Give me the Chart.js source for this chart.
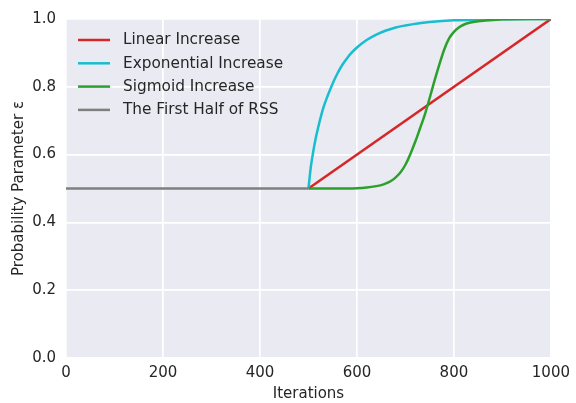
<!DOCTYPE html>
<html>
<head>
<meta charset="utf-8">
<script src="https://cdn.jsdelivr.net/npm/chart.js@4/dist/chart.umd.min.js"></script>
<style>
  html, body { margin: 0; padding: 0; background: #ffffff; }
  canvas { display: block; }
</style>
</head>
<body>
<canvas id="c" width="576" height="403"></canvas>
<script>
// ---- data ----
const xTickValues = [0, 200, 400, 600, 800, 1000];
const yTickValues = [0.0, 0.2, 0.4, 0.6, 0.8, 1.0];

const linearIters = [500, 1000];
const linearVals  = [0.5, 1.0];

const expIters = [500, 505, 510, 515, 520, 530, 540, 550, 560, 570, 580, 590, 600, 620, 640, 660, 680, 700, 725, 750, 800, 850, 900, 1000];
const expVals  = [0.5, 0.565, 0.61, 0.648, 0.68, 0.735, 0.775, 0.81, 0.84, 0.865, 0.885, 0.902, 0.916, 0.938, 0.954, 0.966, 0.975, 0.981, 0.987, 0.991, 0.996, 0.998, 0.999, 1.0];

const sigIters = [500, 550, 600, 620, 640, 650, 660, 670, 680, 690, 700, 710, 720, 730, 740, 750, 760, 770, 780, 790, 800, 810, 820, 830, 840, 860, 880, 900, 950, 1000];
const sigVals  = [0.5, 0.5, 0.501, 0.503, 0.507, 0.51, 0.515, 0.522, 0.533, 0.548, 0.570, 0.601, 0.637, 0.677, 0.718, 0.767, 0.818, 0.866, 0.910, 0.943, 0.962, 0.975, 0.983, 0.988, 0.991, 0.995, 0.997, 0.999, 1.0, 1.0];

const halfIters = [0, 500];
const halfVals  = [0.5, 0.5];

const seriesNames = ['Linear Increase', 'Exponential Increase', 'Sigmoid Increase', 'The First Half of RSS'];
const seriesColors = ['#d62728', '#17becf', '#2ca02c', '#7f7f7f'];

const toPts = (xs, ys) => xs.map((x, i) => ({ x: x, y: ys[i] }));

const TEXT = '#262626';
const FONT = 'DejaVu Sans';

const bgPlugin = {
  id: 'bg',
  beforeDraw(chart) {
    const a = chart.chartArea, ctx = chart.ctx;
    ctx.save();
    ctx.fillStyle = '#EAEAF2';
    ctx.fillRect(a.left, a.top, a.right - a.left, a.bottom - a.top);
    ctx.restore();
  }
};

const legendPlugin = {
  id: 'innerLegend',
  afterDatasetsDraw(chart) {
    const ctx = chart.ctx, a = chart.chartArea;
    ctx.save();
    ctx.font = '15.3px "' + FONT + '"';
    ctx.textBaseline = 'middle';
    ctx.textAlign = 'left';
    chart.data.datasets.forEach((ds, i) => {
      const y = a.top + 21 + i * 23.3;
      const x0 = a.left + 12;
      ctx.strokeStyle = ds.borderColor;
      ctx.lineWidth = 2.5;
      ctx.beginPath();
      ctx.moveTo(x0, y);
      ctx.lineTo(x0 + 32, y);
      ctx.stroke();
      ctx.fillStyle = TEXT;
      ctx.fillText(ds.label, x0 + 45, y + 0.5);
    });
    ctx.restore();
  }
};

const seriesData = [
  toPts(linearIters, linearVals),
  toPts(expIters, expVals),
  toPts(sigIters, sigVals),
  toPts(halfIters, halfVals)
];

new Chart(document.getElementById('c'), {
  type: 'line',
  data: {
    datasets: seriesData.map((d, i) => ({
      label: seriesNames[i],
      data: d,
      borderColor: seriesColors[i],
      backgroundColor: seriesColors[i],
      borderWidth: 2.5,
      pointRadius: 0,
      cubicInterpolationMode: 'monotone',
      fill: false,
      order: seriesData.length - i
    }))
  },
  options: {
    responsive: false,
    animation: false,
    devicePixelRatio: 1,
    layout: { padding: { top: 17, right: 25, left: 0, bottom: 0 } },
    plugins: { legend: { display: false }, tooltip: { enabled: false } },
    scales: {
      x: {
        type: 'linear',
        min: 0, max: 1000,
        afterBuildTicks(s) { s.ticks = xTickValues.map(v => ({ value: v })); },
        afterFit(s) { s.height = 45; },
        grid: { color: '#ffffff', lineWidth: 1.7, drawTicks: false },
        border: { display: false },
        ticks: {
          color: TEXT, padding: 6, maxRotation: 0,
          font: { family: FONT, size: 15 },
          callback: (v) => String(v)
        },
        title: {
          display: true, text: 'Iterations', color: TEXT,
          font: { family: FONT, size: 15 },
          padding: { top: 0, bottom: 0 }
        }
      },
      y: {
        min: 0, max: 1,
        afterBuildTicks(s) { s.ticks = yTickValues.map(v => ({ value: v })); },
        afterFit(s) { s.width = 66; },
        grid: { color: '#ffffff', lineWidth: 1.7, drawTicks: false },
        border: { display: false },
        ticks: {
          color: TEXT, padding: 10,
          font: { family: FONT, size: 15 },
          callback: (v) => Number(v).toFixed(1)
        },
        title: {
          display: true, text: 'Probability Parameter ε', color: TEXT,
          font: { family: FONT, size: 15 },
          padding: { top: 10, bottom: 0 }
        }
      }
    }
  },
  plugins: [bgPlugin, legendPlugin]
});
</script>
</body>
</html>
